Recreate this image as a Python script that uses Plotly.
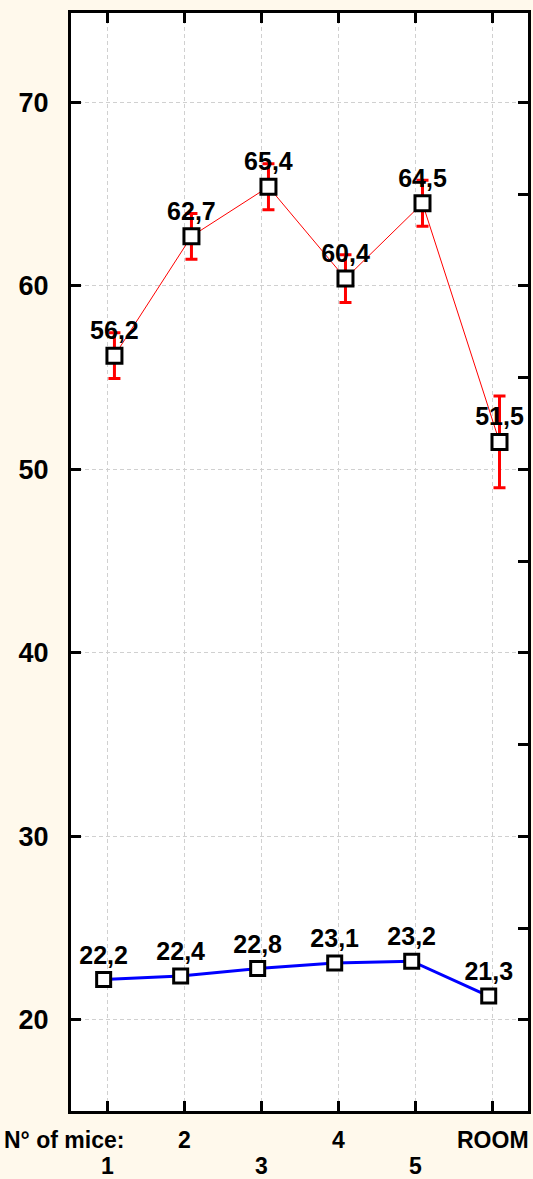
import numpy as np
import plotly.graph_objects as go

# Group labels along the x axis and which label row they sit on
groups = ["1", "2", "3", "4", "5", "ROOM"]
label_rows = [2, 1, 2, 1, 2, 1]

# Upper series (mean with error) and lower series
upper_mean = [56.2, 62.7, 65.4, 60.4, 64.5, 51.5]
upper_err = [1.25, 1.25, 1.25, 1.3, 1.25, 2.5]
lower_mean = [22.2, 22.4, 22.8, 23.1, 23.2, 21.3]

y_ticks = [20, 30, 40, 50, 60, 70]

W, H = 533, 1179
M = dict(l=71, r=5, t=13, b=68)
FONT = "Liberation Sans, Arial, sans-serif"
PAPER = "#FFF9EC"

pos = np.arange(1, len(groups) + 1)
# small horizontal dodge so the two series don't sit exactly on the grid line
UPPER_SHIFT = 0.09
LOWER_SHIFT = -0.05


def fmt(v):
    return f"{v:.1f}".replace(".", ",")


fig = go.Figure()

fig.add_trace(go.Scatter(
    x=pos + UPPER_SHIFT, y=upper_mean,
    mode="lines+markers+text",
    line=dict(color="#FF0000", width=1),
    marker=dict(symbol="square", size=15, color="white",
                line=dict(color="black", width=3)),
    error_y=dict(type="data", array=upper_err, visible=True,
                 color="#FF0000", thickness=3, width=6),
    text=[fmt(v) for v in upper_mean],
    textposition="top center",
    textfont=dict(family=FONT, size=25, color="black", weight="bold"),
    showlegend=False, hoverinfo="x+y",
))

fig.add_trace(go.Scatter(
    x=pos + LOWER_SHIFT, y=lower_mean,
    mode="lines+markers+text",
    line=dict(color="#0000FF", width=3),
    marker=dict(symbol="square", size=14, color="white",
                line=dict(color="black", width=3)),
    text=[fmt(v) for v in lower_mean],
    textposition="top center",
    textfont=dict(family=FONT, size=25, color="black", weight="bold"),
    showlegend=False, hoverinfo="x+y",
))

# carrier for the right-hand minor tick axis
fig.add_trace(go.Scatter(x=[pos[0]], y=[y_ticks[0]], yaxis="y2",
                         mode="markers", marker=dict(opacity=0),
                         showlegend=False, hoverinfo="skip"))

y_range = [15.04, 74.87]
grid = dict(showgrid=True, gridcolor="#D0D0D0", gridwidth=1, griddash="4px,3px")

fig.update_layout(
    width=W, height=H, margin=M,
    paper_bgcolor=PAPER, plot_bgcolor="white",
    xaxis=dict(range=[0.526, 6.46], tickvals=list(pos), ticktext=[""] * len(pos),
               ticks="inside", ticklen=10, tickwidth=3, tickcolor="black",
               showline=True, linewidth=3, linecolor="black", mirror="ticks",
               zeroline=False, **grid),
    yaxis=dict(range=y_range, tickvals=y_ticks,
               ticks="inside", ticklen=10, tickwidth=3, tickcolor="black",
               showline=True, linewidth=3, linecolor="black",
               tickfont=dict(family=FONT, size=27, color="black", weight="bold"),
               zeroline=False, ticklabelstandoff=14, **grid),
    yaxis2=dict(range=y_range, overlaying="y", side="right", dtick=5, tick0=0,
                ticks="inside", ticklen=10, tickwidth=3, tickcolor="black",
                showline=True, linewidth=3, linecolor="black",
                showticklabels=False, showgrid=False, zeroline=False),
)

plot_h = H - M["t"] - M["b"]
bottom_px = H - M["b"]
row_y = {1: -(1140 - bottom_px) / plot_h, 2: -(1166 - bottom_px) / plot_h}
label_font = dict(family=FONT, size=23, color="black", weight="bold")

for p, g, r in zip(pos, groups, label_rows):
    fig.add_annotation(x=p, y=row_y[r], xref="x", yref="paper",
                       text=g, showarrow=False, xanchor="center", yanchor="middle",
                       borderpad=0, font=label_font)

fig.add_annotation(x=-0.149, y=row_y[1], xref="paper", yref="paper",
                   text="N° of mice:", showarrow=False, xanchor="left", yanchor="middle",
                   borderpad=0, font=label_font)

fig.write_html("out.html")
